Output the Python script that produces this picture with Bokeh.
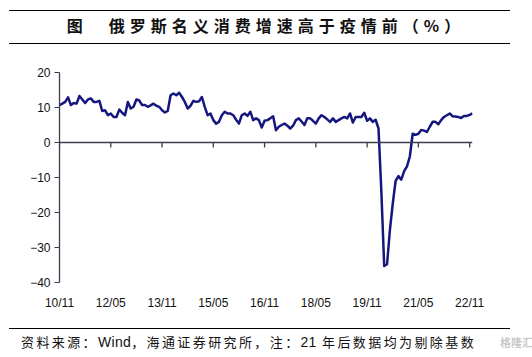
import math
from bokeh.plotting import figure
from bokeh.models import Div, FixedTicker, Range1d, ColumnDataSource, Span
from bokeh.layouts import column
from bokeh.embed import file_html
from bokeh.resources import INLINE

title_text = "图\u3000俄罗斯名义消费增速高于疫情前（%）"
footer_parts = ["资料来源：", "Wind", "，海通证券研究所，注：", "21", " 年后数据均为剔除基数"]
watermark_text = "格隆汇"

start_year, start_month = 2010, 11
tick_labels = ["10/11", "12/05", "13/11", "15/05", "16/11", "18/05", "19/11", "21/05", "22/11"]
y_ticks = [-40, -30, -20, -10, 0, 10, 20]

# monthly nominal consumption growth, %, from 2010-11
values = [
    10.7, 11.1, 11.6, 12.9, 10.7, 11.3, 11.1, 13.3, 12.3, 11.3,
    12.3, 12.6, 11.6, 11.6, 11.9, 9.0, 9.2, 7.8, 8.3, 7.3,
    7.3, 9.4, 8.5, 7.8, 11.6, 9.7, 10.2, 12.3, 12.0, 10.7,
    10.7, 10.2, 10.6, 11.1, 10.5, 10.2, 9.2, 8.6, 9.0, 13.5,
    14.0, 13.5, 14.2, 13.0, 11.6, 9.7, 10.5, 11.9, 11.6, 11.8,
    13.0, 10.2, 7.8, 8.3, 6.4, 5.4, 5.9, 7.8, 8.8, 8.3,
    8.3, 7.8, 6.5, 5.4, 7.8, 8.3, 7.6, 8.8, 6.4, 6.9,
    6.4, 4.3, 6.2, 6.4, 6.9, 7.5, 3.5, 4.5, 5.0, 5.4,
    4.8, 4.0, 4.8, 6.4, 6.9, 6.0, 5.0, 6.9, 6.9, 6.2,
    5.4, 6.9, 7.8, 7.3, 6.6, 5.9, 6.9, 5.9, 6.4, 6.9,
    7.3, 6.9, 8.3, 5.7, 7.3, 7.3, 7.3, 8.5, 6.2, 6.9,
    5.9, 6.5, 4.0, -14.0, -35.3, -34.8, -25.0, -17.5, -11.0, -9.6,
    -10.6, -8.2, -6.8, -4.0, 2.5, 2.2, 2.5, 3.6, 3.4, 3.0,
    4.5, 5.9, 5.9, 5.2, 6.4, 7.3, 7.8, 8.3, 7.5, 7.4,
    7.3, 7.0, 7.6, 7.6, 7.9, 8.3,
]

months = list(range(len(values)))


def month_index(lbl):
    yy, mm = lbl.split("/")
    return (2000 + int(yy) - start_year) * 12 + int(mm) - start_month


tick_pos = [month_index(l) for l in tick_labels]

src = ColumnDataSource(dict(x=months, y=values))
tick_src = ColumnDataSource(dict(x=tick_pos, y=[0] * len(tick_pos)))

AX_FONT = "Liberation Sans"
AX_COLOR = "#3c3c50"

p = figure(width=532, height=283, output_backend="svg", toolbar_location=None,
           x_range=Range1d(0, len(values) - 1), y_range=Range1d(-40, 20),
           min_border_left=59, min_border_right=60, min_border_top=27, min_border_bottom=46)
p.outline_line_color = None
p.xgrid.visible = False
p.ygrid.visible = False
p.background_fill_color = "white"
p.border_fill_color = "white"

# zero line with downward tick marks
p.add_layout(Span(location=0, dimension="width", line_color=AX_COLOR, line_width=1.3))
p.ray("x", "y", source=tick_src, length=5, length_units="screen", angle=-math.pi / 2,
      line_color=AX_COLOR, line_width=1.3)

p.line("x", "y", source=src, line_color="#16167f", line_width=2.5, line_join="round")

# bottom label-only axis
xa = p.xaxis[0]
xa.ticker = FixedTicker(ticks=tick_pos)
xa.major_label_overrides = {pos: lbl for pos, lbl in zip(tick_pos, tick_labels)}
xa.axis_line_color = None
xa.major_tick_line_color = None
xa.minor_tick_line_color = None
xa.major_label_standoff = 7
xa.major_label_text_font = AX_FONT
xa.major_label_text_font_size = "12px"
xa.major_label_text_color = "#111111"

ya = p.yaxis[0]
ya.ticker = FixedTicker(ticks=y_ticks)
ya.axis_line_color = AX_COLOR
ya.axis_line_width = 1.3
ya.major_tick_line_color = AX_COLOR
ya.major_tick_in = 0
ya.major_tick_out = 5
ya.minor_tick_line_color = None
ya.major_label_standoff = 4
ya.major_label_text_font = AX_FONT
ya.major_label_text_font_size = "12px"
ya.major_label_text_color = "#111111"

title_html = (
    '<div style="position:relative;width:532px;height:45px;background:#fff;">'
    '<div style="position:absolute;left:9px;top:10px;width:501px;border-top:1.5px solid #000"></div>'
    '<div style="position:absolute;left:0;top:14px;width:532px;text-align:center;'
    "font-family:'Noto Sans CJK SC';font-size:16px;font-weight:bold;letter-spacing:5px;"
    'line-height:22px;color:#111">' + title_text + '</div>'
    '<div style="position:absolute;left:9px;top:43px;width:501px;border-top:1.5px solid #000"></div>'
    '</div>'
)

cjk = "letter-spacing:2.4px;font-family:'Noto Sans CJK SC';"
lat = "letter-spacing:0.3px;font-family:'Liberation Sans';font-size:14px;"
footer_inner = "".join(
    '<span style="%s">%s</span>' % (lat if part.strip().isascii() else cjk, part)
    for part in footer_parts
)
footer_html = (
    '<div style="position:relative;width:532px;height:29px;background:#fff;overflow:hidden;">'
    '<div style="position:absolute;left:9px;top:0px;width:501px;border-top:1.5px solid #000"></div>'
    '<div style="position:absolute;left:21px;top:5px;white-space:nowrap;'
    'font-size:13px;line-height:18px;color:#111">' + footer_inner + '</div>'
    '<div style="position:absolute;left:500px;top:5px;white-space:nowrap;'
    "font-family:'Noto Sans CJK SC';font-size:11px;font-weight:bold;line-height:18px;"
    'color:rgba(190,190,190,0.85)">' + watermark_text + '</div>'
    '</div>'
)

title_div = Div(text=title_html, width=532, height=45, margin=(0, 0, 0, 0))
footer_div = Div(text=footer_html, width=532, height=29, margin=(0, 0, 0, 0))
p.margin = (0, 0, 0, 0)

layout = column(title_div, p, footer_div, spacing=0, margin=(0, 0, 0, 0))

open("out.html", "w").write(file_html(layout, INLINE))
